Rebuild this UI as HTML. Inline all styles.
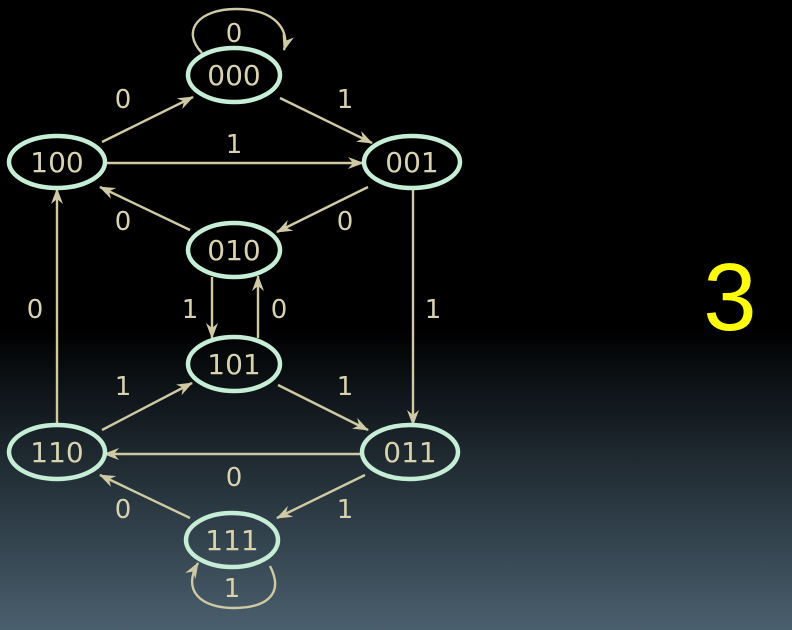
<!DOCTYPE html>
<html><head><style>
html,body{margin:0;padding:0;}
body{width:792px;height:630px;overflow:hidden;background:linear-gradient(to bottom,#000 0px,#000 330px,#0e1418 390px,#2e3d47 520px,#4a5f6d 630px);}
svg{position:absolute;left:0;top:0;}
</style></head><body>
<svg width="792" height="630" viewBox="0 0 792 630" font-family="'DejaVu Sans','Liberation Sans',sans-serif">
<defs>
<marker id="a" markerWidth="16" markerHeight="12" refX="15" refY="6" orient="auto" markerUnits="userSpaceOnUse">
<path d="M0,0 L16,6 L0,12 L5,6 Z" fill="#cfcaa4"/>
</marker>
</defs>
<g stroke="#cfcaa4" stroke-width="2.4" fill="none" marker-end="url(#a)">
<line x1="102" y1="142" x2="193" y2="97"/>
<line x1="280" y1="98" x2="372" y2="143"/>
<line x1="105" y1="163" x2="363" y2="163"/>
<line x1="368" y1="187" x2="277" y2="232"/>
<line x1="190" y1="230" x2="100" y2="187"/>
<line x1="212" y1="277" x2="212" y2="338"/>
<line x1="258" y1="338" x2="258" y2="276"/>
<line x1="57" y1="425" x2="57" y2="189"/>
<line x1="413" y1="189" x2="413" y2="425"/>
<line x1="102" y1="430" x2="192" y2="383"/>
<line x1="278" y1="385" x2="368" y2="430"/>
<line x1="362" y1="454" x2="104" y2="454"/>
<line x1="190" y1="518" x2="100" y2="475"/>
<line x1="365" y1="475" x2="277" y2="518"/>
<path d="M202,53 C180,30 200,9 236,9 C275,9 290,30 284,50"/>
<path d="M270,566 C285,595 265,608 234,608 C200,608 182,590 198,563"/>
</g>
<g fill="none" stroke="#c6eed6" stroke-width="4.5">
<ellipse cx="234" cy="75" rx="46" ry="27"/>
<ellipse cx="57" cy="162" rx="48" ry="26"/>
<ellipse cx="412" cy="162" rx="48" ry="26"/>
<ellipse cx="234" cy="250" rx="46" ry="27"/>
<ellipse cx="234" cy="364" rx="46" ry="27"/>
<ellipse cx="57" cy="452" rx="48" ry="27"/>
<ellipse cx="410" cy="452" rx="48" ry="27"/>
<ellipse cx="232" cy="540" rx="46" ry="27"/>
</g>
<g fill="#d8d3ae" font-size="28" text-anchor="middle">
<text x="234" y="85">000</text>
<text x="57" y="172">100</text>
<text x="412" y="172">001</text>
<text x="234" y="260">010</text>
<text x="234" y="374">101</text>
<text x="57" y="462">110</text>
<text x="410" y="462">011</text>
<text x="232" y="550">111</text>
</g>
<g fill="#d8d3ae" font-size="26" text-anchor="middle">
<text x="234" y="42">0</text>
<text x="123" y="108">0</text>
<text x="345" y="108">1</text>
<text x="234" y="153">1</text>
<text x="123" y="230">0</text>
<text x="345" y="230">0</text>
<text x="35" y="318">0</text>
<text x="190" y="318">1</text>
<text x="279" y="318">0</text>
<text x="433" y="318">1</text>
<text x="123" y="395">1</text>
<text x="345" y="395">1</text>
<text x="234" y="486">0</text>
<text x="123" y="518">0</text>
<text x="345" y="518">1</text>
<text x="232" y="597">1</text>
</g>
<text x="730" y="330" fill="#ffff00" font-size="96" text-anchor="middle" font-family="'Liberation Sans',sans-serif">3</text>
</svg>
</body></html>
